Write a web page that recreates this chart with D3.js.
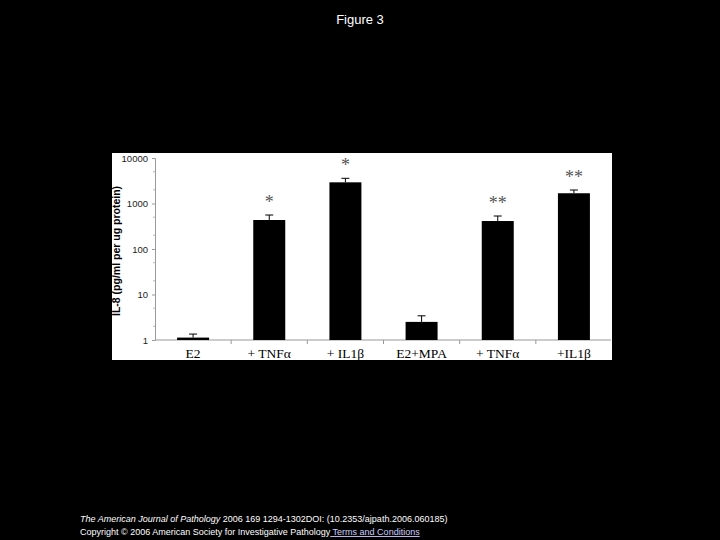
<!DOCTYPE html>
<html>
<head>
    <style>
        body { margin: 0; background: #000; }
        svg { display: block; }
        .tick text { font-family: Arial, "Liberation Sans", sans-serif; }
    </style>
</head>
<body>
    <svg width="720" height="540"></svg>

    <script src="https://cdn.jsdelivr.net/npm/d3@7"></script>
    <script>
        // Datos
        var categories = ["E2", "+ TNF\u03b1", "+ IL1\u03b2", "E2+MPA", "+ TNF\u03b1 ", "+IL1\u03b2"];
        var values = [1.13, 434, 2920, 2.5, 412, 1680];
        var errors = [1.35, 558, 3580, 3.4, 531, 1980];
        var marks = ["", "*", "*", "", "**", "**"];
        var yTicks = [1, 10, 100, 1000, 10000];

        var svg = d3.select("svg");

        // Título
        svg.append("text")
            .attr("x", 360).attr("y", 24)
            .attr("text-anchor", "middle")
            .attr("fill", "#fff")
            .style("font-family", "Arial, sans-serif")
            .style("font-size", "13px")
            .text("Figure 3");

        // Panel blanco
        svg.append("rect")
            .attr("x", 112).attr("y", 153)
            .attr("width", 500).attr("height", 207)
            .attr("fill", "#fff");

        var x = d3.scaleBand()
            .domain(categories)
            .range([155, 612])
            .paddingInner(0.58)
            .paddingOuter(0.29);

        var y = d3.scaleLog()
            .domain([1, 10000])
            .range([340, 158]);

        // Eje Y
        var yAxis = d3.axisLeft(y)
            .tickValues(yTicks)
            .tickFormat(d3.format("d"))
            .tickSize(3)
            .tickPadding(4);

        var gy = svg.append("g")
            .attr("transform", "translate(155,0)")
            .call(yAxis);
        gy.select(".domain").attr("stroke", "#999");
        gy.selectAll(".tick line").attr("stroke", "#999");
        gy.selectAll(".tick text")
            .attr("fill", "#222")
            .style("font-size", "9.5px");

        // marcas menores
        var minor = [];
        yTicks.slice(0, -1).forEach(function(t) { minor.push(t * 2, t * 5); });
        svg.append("g").selectAll("line")
            .data(minor)
            .enter().append("line")
            .attr("x1", 153).attr("x2", 155)
            .attr("y1", function(d) { return y(d); })
            .attr("y2", function(d) { return y(d); })
            .attr("stroke", "#bbb");

        // Eje X
        svg.append("line")
            .attr("x1", 155).attr("x2", 611)
            .attr("y1", 340).attr("y2", 340)
            .attr("stroke", "#999");

        var step = x.step();
        svg.append("g").selectAll("line")
            .data(d3.range(1, categories.length))
            .enter().append("line")
            .attr("x1", function(i) { return 155 + i * step; })
            .attr("x2", function(i) { return 155 + i * step; })
            .attr("y1", 340).attr("y2", 344)
            .attr("stroke", "#999");

        svg.append("g").selectAll("text")
            .data(categories)
            .enter().append("text")
            .attr("x", function(d) { return x(d) + x.bandwidth() / 2; })
            .attr("y", 358)
            .attr("text-anchor", "middle")
            .attr("fill", "#000")
            .style("font-family", "'Liberation Serif', 'Times New Roman', serif")
            .style("font-size", "13.5px")
            .text(function(d) { return d.trim(); });

        // Título eje Y
        svg.append("text")
            .attr("transform", "translate(120,251) rotate(-90)")
            .attr("text-anchor", "middle")
            .attr("fill", "#000")
            .style("font-family", "Arial, sans-serif")
            .style("font-size", "10.5px")
            .style("font-weight", "bold")
            .text("IL-8 (pg/ml per ug protein)");

        // Barras de error
        var err = svg.append("g").selectAll("g")
            .data(categories)
            .enter().append("g");
        err.append("line")
            .attr("x1", function(d) { return x(d) + x.bandwidth() / 2; })
            .attr("x2", function(d) { return x(d) + x.bandwidth() / 2; })
            .attr("y1", function(d, i) { return y(values[i]); })
            .attr("y2", function(d, i) { return y(errors[i]); })
            .attr("stroke", "#000");
        err.append("line")
            .attr("x1", function(d) { return x(d) + x.bandwidth() / 2 - 4; })
            .attr("x2", function(d) { return x(d) + x.bandwidth() / 2 + 4; })
            .attr("y1", function(d, i) { return y(errors[i]); })
            .attr("y2", function(d, i) { return y(errors[i]); })
            .attr("stroke", "#000");

        // Barras
        svg.append("g").selectAll("rect")
            .data(categories)
            .enter().append("rect")
            .attr("x", function(d) { return x(d); })
            .attr("width", x.bandwidth())
            .attr("y", function(d, i) { return y(values[i]); })
            .attr("height", function(d, i) { return 340 - y(values[i]); })
            .attr("fill", "#000");

        // Asteriscos
        svg.append("g").selectAll("text")
            .data(categories)
            .enter().append("text")
            .attr("x", function(d) { return x(d) + x.bandwidth() / 2; })
            .attr("y", function(d, i) { return y(errors[i]) - 7; })
            .attr("text-anchor", "middle")
            .attr("fill", "#555")
            .style("font-family", "'Liberation Serif', 'Times New Roman', serif")
            .style("font-size", "18px")
            .text(function(d, i) { return marks[i]; });

        // Pie de página
        var foot = svg.append("g")
            .style("font-family", "Arial, sans-serif")
            .style("font-size", "9px")
            .attr("fill", "#fff");
        var l1 = foot.append("text").attr("x", 80).attr("y", 522);
        l1.append("tspan").style("font-style", "italic").text("The American Journal of Pathology");
        l1.append("tspan").text(" 2006 169 1294-1302DOI: (10.2353/ajpath.2006.060185) ");
        var l2 = foot.append("text").attr("x", 80).attr("y", 535);
        l2.append("tspan").text("Copyright \u00a9 2006 American Society for Investigative Pathology");
        l2.append("tspan")
            .attr("fill", "#ccccff")
            .style("text-decoration", "underline")
            .text(" Terms and Conditions");
    </script>
</body>
</html>
